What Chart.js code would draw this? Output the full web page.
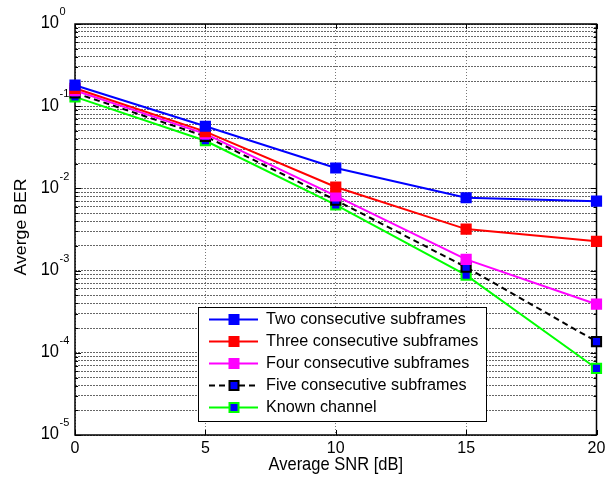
<!DOCTYPE html>
<html>
<head>
<meta charset="utf-8">
<script src="https://cdn.jsdelivr.net/npm/chart.js@4/dist/chart.umd.min.js"></script>
<style>
html, body { margin: 0; padding: 0; background: #fff; }
</style>
</head>
<body>
<canvas id="berChart" width="605" height="481"></canvas>
<script>
// x axis: average SNR in dB
const snrDb = [0, 5, 10, 15, 20];
const xTicks = [0, 5, 10, 15, 20];
// y axis decades (10^e)
const yExponents = [-5, -4, -3, -2, -1, 0];

// BER values
const berTwo   = [0.18, 0.057, 0.0177, 0.0077, 0.0070];
const berThree = [0.165, 0.049, 0.0104, 0.0032, 0.00227];
const berFour  = [0.155, 0.046, 0.0081, 0.00137, 0.00039];
const berFive  = [0.145, 0.043, 0.0072, 0.0011, 0.000137];
const berKnown = [0.13, 0.038, 0.0063, 0.00088, 0.0000645];

const seriesNames = [
    'Two consecutive subframes',
    'Three consecutive subframes',
    'Four consecutive subframes',
    'Five consecutive subframes',
    'Known channel'
];

const FONT = '"Liberation Sans", Arial, sans-serif';

function toPoints(values) {
    return snrDb.map((x, i) => ({ x: x, y: values[i] }));
}

function makeSet(name, values, line, fill, edge, dash) {
    return {
        label: name,
        data: toPoints(values),
        borderColor: line,
        borderWidth: 2,
        borderDash: dash || [],
        pointStyle: 'rect',
        pointRadius: 6.5,
        pointBackgroundColor: fill,
        pointBorderColor: edge,
        pointBorderWidth: 2,
        tension: 0,
        clip: false
    };
}

const datasets = [
    makeSet(seriesNames[0], berTwo, '#0000ff', '#0000ff', '#0000ff'),
    makeSet(seriesNames[1], berThree, '#ff0000', '#ff0000', '#ff0000'),
    makeSet(seriesNames[2], berFour, '#ff00ff', '#ff00ff', '#ff00ff'),
    makeSet(seriesNames[3], berFive, '#000000', '#0000ff', '#000000', [6, 4]),
    makeSet(seriesNames[4], berKnown, '#00ff00', '#0000ff', '#00ff00')
];

// slightly tall text, like the exported figure
function tallText(ctx, txt, x, y, sy) {
    ctx.save();
    ctx.translate(x, y);
    ctx.scale(1, sy || 1.07);
    ctx.fillText(txt, 0, 0);
    ctx.restore();
}

// box, inward ticks, tick labels, axis titles and legend, MATLAB style
const matlabAxes = {
    id: 'matlabAxes',
    beforeDatasetsDraw(chart) {
        const ctx = chart.ctx;
        const a = chart.chartArea;
        const xs = chart.scales.x, ys = chart.scales.y;
        ctx.save();
        ctx.strokeStyle = '#000';
        ctx.lineWidth = 1;
        ctx.beginPath();
        // x ticks, bottom and top
        xTicks.forEach(v => {
            const px = Math.round(xs.getPixelForValue(v)) + 0.5;
            ctx.moveTo(px, a.bottom); ctx.lineTo(px, a.bottom - 5);
            ctx.moveTo(px, a.top); ctx.lineTo(px, a.top + 5);
        });
        // y ticks, major and minor, left and right
        yExponents.forEach(e => {
            for (let m = 1; m <= 9; m++) {
                if (e === 0 && m > 1) break;
                const py = Math.round(ys.getPixelForValue(m * Math.pow(10, e))) + 0.5;
                const len = m === 1 ? 6 : 3;
                ctx.moveTo(a.left, py); ctx.lineTo(a.left + len, py);
                ctx.moveTo(a.right, py); ctx.lineTo(a.right - len, py);
            }
        });
        ctx.stroke();
        ctx.lineWidth = 1.5;
        ctx.strokeRect(a.left, a.top, a.right - a.left, a.bottom - a.top);
        ctx.restore();
    },
    afterDraw(chart) {
        const ctx = chart.ctx;
        const a = chart.chartArea;
        const xs = chart.scales.x, ys = chart.scales.y;
        ctx.save();
        ctx.fillStyle = '#000';

        // x tick labels
        ctx.font = '16px ' + FONT;
        ctx.textAlign = 'center';
        ctx.textBaseline = 'middle';
        xTicks.forEach(v => tallText(ctx, String(v), xs.getPixelForValue(v), a.bottom + 13));

        // y tick labels 10^e
        yExponents.forEach(e => {
            const py = ys.getPixelForValue(Math.pow(10, e));
            ctx.font = '16.5px ' + FONT;
            ctx.textAlign = 'right';
            tallText(ctx, '10', a.left - 16, py - 0.5);
            ctx.font = '11px ' + FONT;
            ctx.textAlign = 'left';
            tallText(ctx, String(e), a.left - 15.5, py - 12);
        });

        // axis titles
        ctx.font = '16.5px ' + FONT;
        ctx.textAlign = 'center';
        tallText(ctx, 'Average SNR [dB]', (a.left + a.right) / 2, a.bottom + 30);
        ctx.save();
        ctx.translate(21, 227);
        ctx.rotate(-Math.PI / 2);
        ctx.scale(1.07, 1);
        ctx.fillText('Averge BER', 0, 0);
        ctx.restore();

        // legend box
        const lx = 198, ly = 307, lw = 288, lh = 114;
        ctx.fillStyle = '#fff';
        ctx.fillRect(lx, ly, lw, lh);
        ctx.strokeStyle = '#000';
        ctx.lineWidth = 1;
        ctx.strokeRect(lx + 0.5, ly + 0.5, lw, lh);
        chart.data.datasets.forEach((ds, i) => {
            const cy = 319.5 + i * 22;
            ctx.strokeStyle = ds.borderColor;
            ctx.lineWidth = 2;
            ctx.setLineDash(ds.borderDash);
            ctx.beginPath();
            ctx.moveTo(209, cy); ctx.lineTo(258, cy);
            ctx.stroke();
            ctx.setLineDash([]);
            ctx.fillStyle = ds.pointBackgroundColor;
            ctx.strokeStyle = ds.pointBorderColor;
            ctx.fillRect(229.5, cy - 4.5, 9, 9);
            ctx.strokeRect(229.5, cy - 4.5, 9, 9);
            ctx.fillStyle = '#000';
            ctx.font = '16.2px ' + FONT;
            ctx.textAlign = 'left';
            ctx.textBaseline = 'middle';
            tallText(ctx, ds.label, 266, cy);
        });
        ctx.restore();
    }
};

const berChart = new Chart(document.getElementById('berChart'), {
    type: 'line',
    data: { datasets: datasets },
    options: {
        responsive: false,
        animation: false,
        layout: { padding: { left: 75, top: 24, right: 8, bottom: 46 } },
        plugins: {
            legend: { display: false },
            tooltip: { enabled: false }
        },
        scales: {
            x: {
                type: 'linear',
                min: 0,
                max: 20,
                ticks: { display: false, stepSize: 5 },
                grid: { color: '#777', lineWidth: 1, drawTicks: false },
                border: { display: false, dash: [1, 2] }
            },
            y: {
                type: 'logarithmic',
                min: 1e-5,
                max: 1,
                ticks: { display: false },
                afterBuildTicks: (scale) => {
                    const t = [];
                    yExponents.forEach(e => {
                        for (let m = 1; m <= 9; m++) {
                            if (e === 0 && m > 1) break;
                            t.push({ value: m * Math.pow(10, e), major: m === 1 });
                        }
                    });
                    scale.ticks = t;
                },
                grid: { color: '#666', lineWidth: 1, drawTicks: false },
                border: { display: false, dash: [2, 1] }
            }
        }
    },
    plugins: [matlabAxes]
});
</script>
</body>
</html>
